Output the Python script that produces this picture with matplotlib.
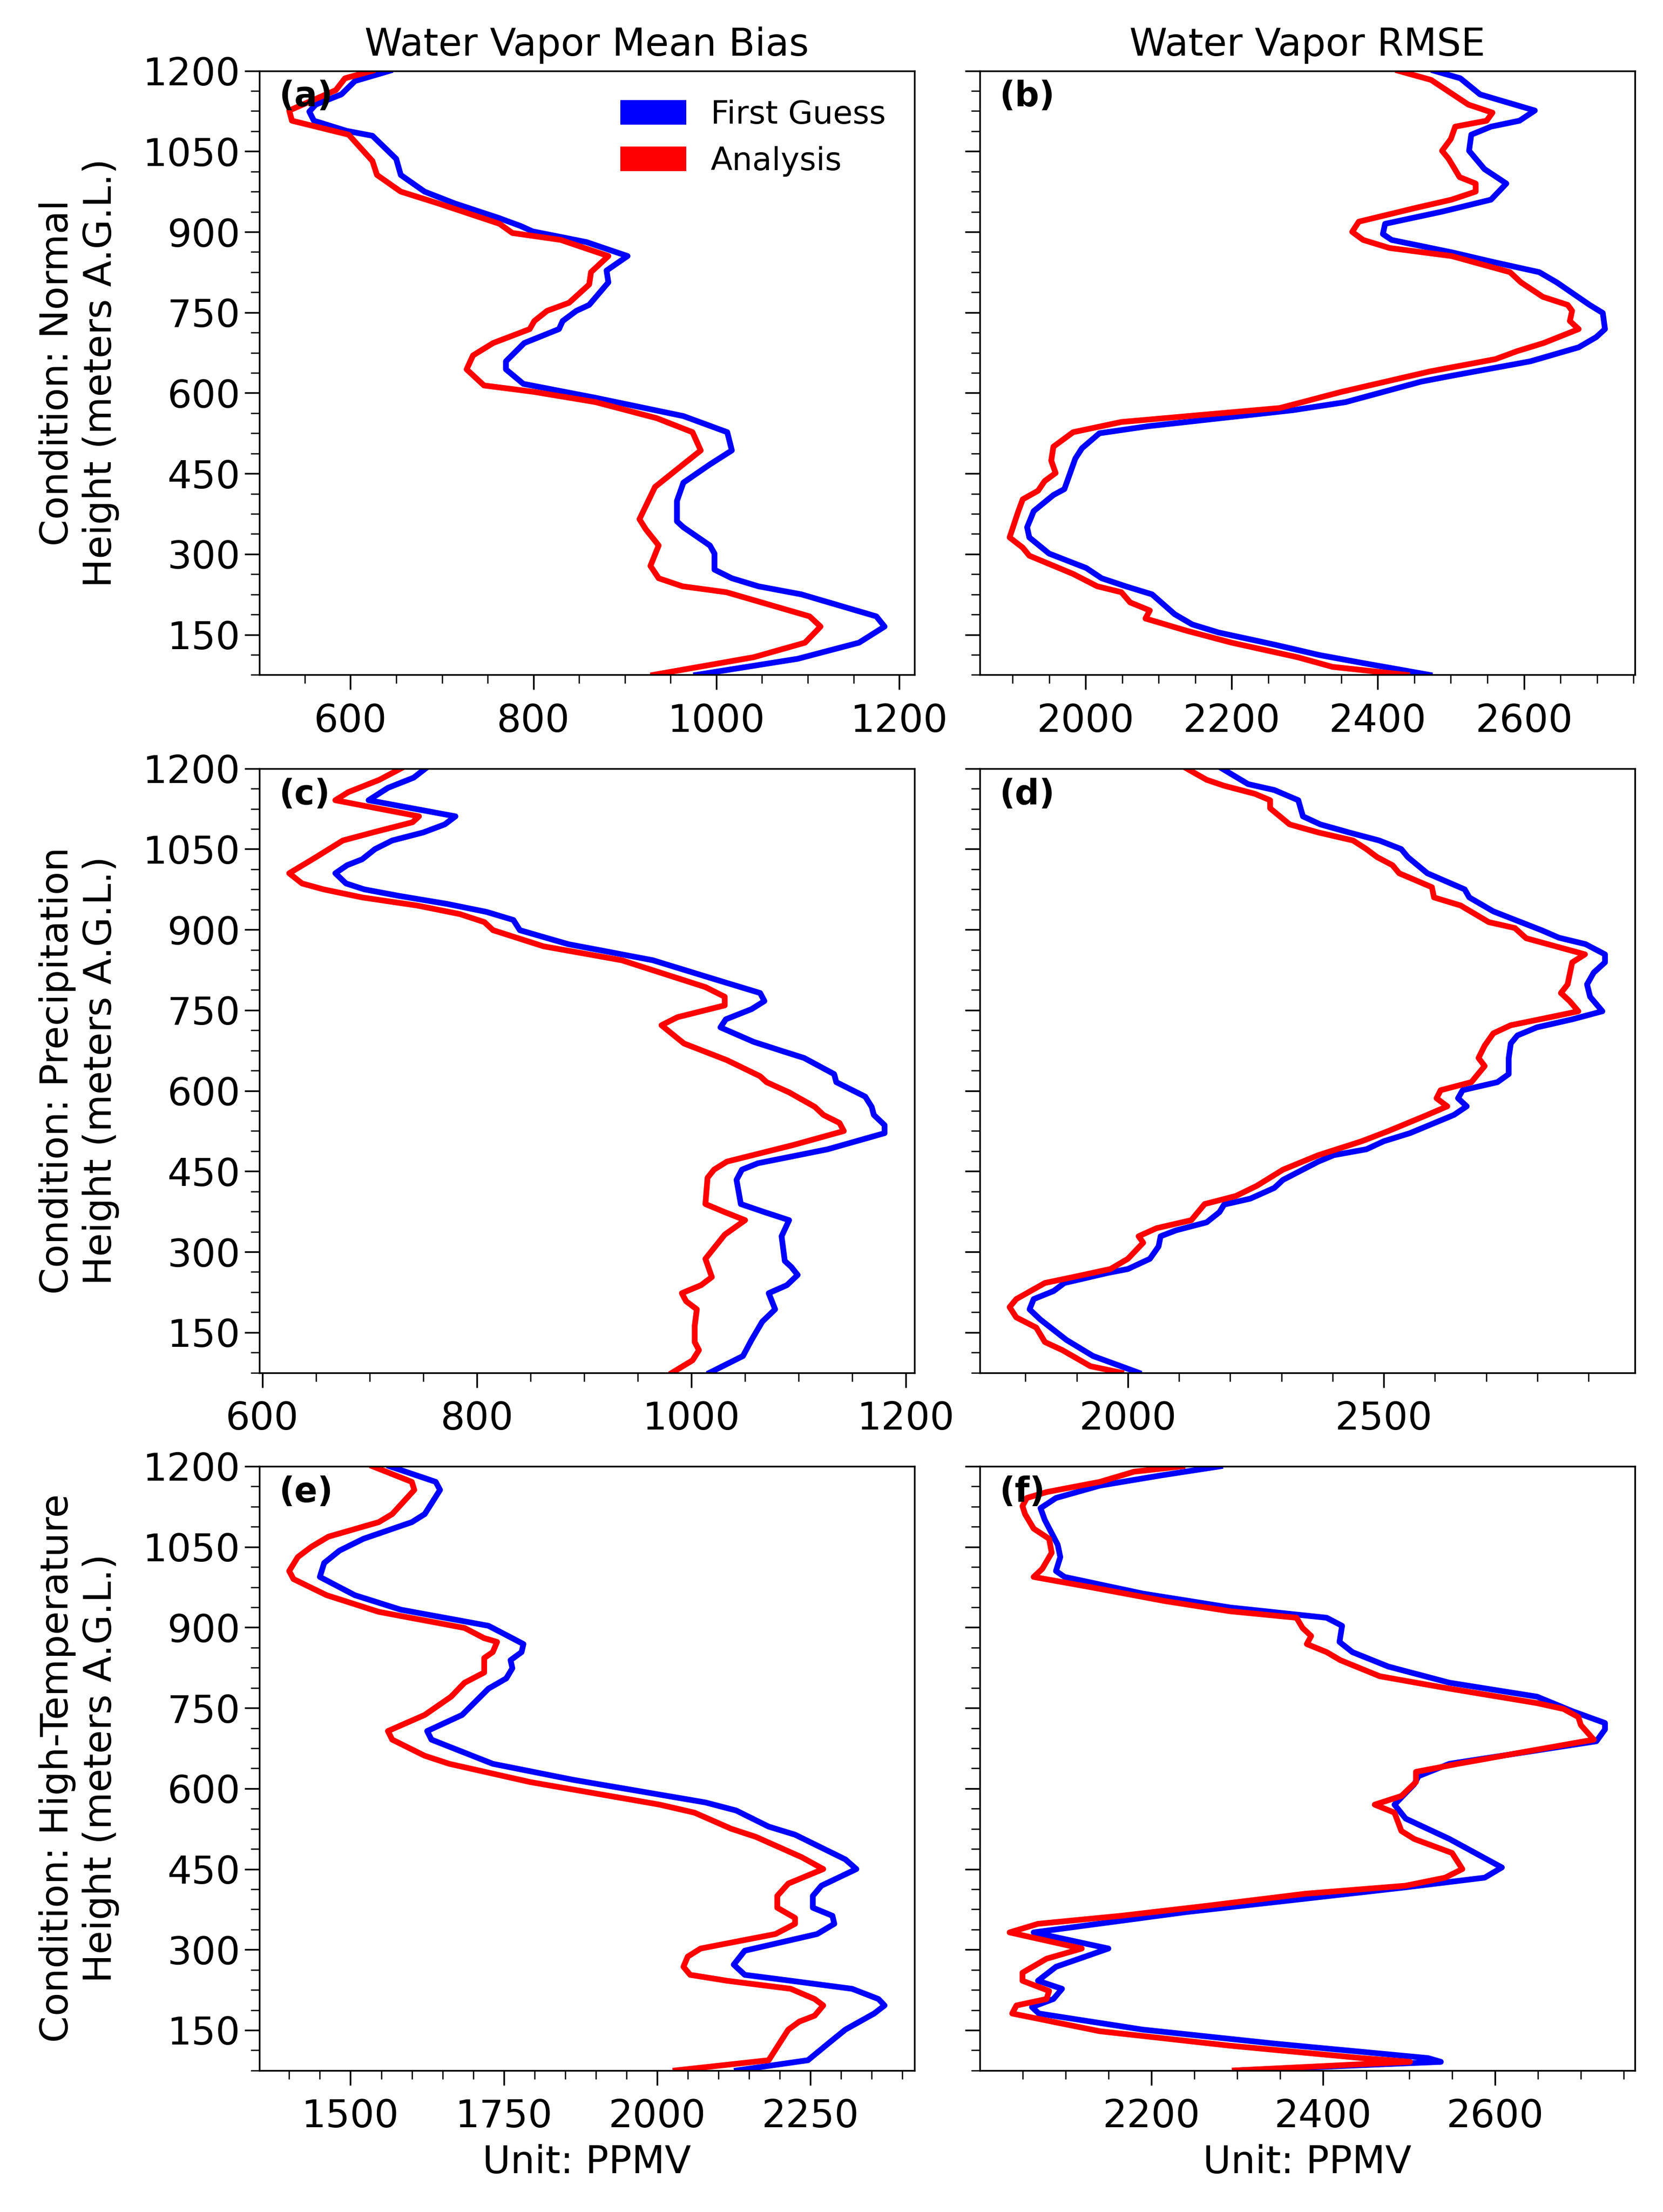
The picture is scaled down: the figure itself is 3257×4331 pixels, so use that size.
import matplotlib
matplotlib.use('Agg')
import matplotlib.pyplot as plt
import matplotlib.patches as mpatches
from matplotlib.ticker import AutoMinorLocator

plt.rcParams['font.family'] = ['DejaVu Sans']
plt.rcParams['font.size'] = 18

# (a) Normal - mean bias
h_fg_a = [1200, 1181, 1156, 1137, 1124, 1107, 1088, 1079, 1036, 1006, 975, 953, 926, 911, 901, 881, 855, 828, 806, 764,
          753, 734, 719, 693, 659, 644, 617, 591, 557, 527, 493, 467, 433, 399, 361, 350, 316, 301, 271, 255,
          240, 225, 184, 165, 135, 105, 75]
fg_a = [643, 605, 590, 562, 555, 560, 596, 624, 650, 655, 681, 714, 762, 786, 799, 858, 903, 880, 882, 861,
        847, 832, 828, 790, 770, 770, 789, 868, 964, 1012, 1017, 993, 964, 957, 957, 964, 993, 998, 998, 1017,
        1046, 1093, 1175, 1184, 1156, 1089, 978]
h_an_a = [1200, 1186, 1164, 1126, 1107, 1081, 1032, 1006, 975, 953, 915, 898, 885, 855, 825, 802, 768, 753, 734, 719,
          693, 670, 644, 614, 602, 583, 553, 527, 493, 470, 425, 365, 346, 316, 278, 255, 240, 229, 184, 165,
          135, 108, 75]
an_a = [624, 594, 584, 533, 536, 598, 624, 629, 655, 696, 763, 777, 830, 882, 863, 861, 839, 815, 801, 796,
        756, 734, 727, 746, 801, 868, 935, 974, 983, 966, 933, 916, 923, 937, 928, 937, 963, 1011, 1102, 1114,
        1097, 1041, 931]

# (b) Normal - RMSE
h_fg_b = [1200, 1186, 1156, 1126, 1107, 1096, 1081, 1051, 1017, 990, 960, 938, 915, 896, 885, 862, 843, 825, 806, 764,
          749, 719, 704, 685, 659, 632, 621, 583, 568, 538, 525, 497, 478, 421, 410, 380, 350, 331, 301, 274,
          255, 240, 225, 188, 169, 154, 131, 112, 97, 75]
fg_b = [2477, 2513, 2540, 2615, 2594, 2555, 2528, 2525, 2546, 2576, 2555, 2489, 2410, 2407, 2419, 2501, 2561, 2621, 2645, 2690,
        2708, 2711, 2699, 2675, 2609, 2501, 2459, 2356, 2284, 2085, 2019, 1995, 1986, 1971, 1956, 1929, 1920, 1923, 1950, 2001,
        2022, 2055, 2091, 2122, 2146, 2182, 2260, 2320, 2380, 2471]
h_an_b = [1200, 1183, 1137, 1122, 1107, 1096, 1073, 1051, 1036, 1002, 990, 975, 960, 945, 919, 900, 885, 870, 855, 825,
          806, 779, 764, 753, 734, 719, 693, 678, 663, 640, 602, 572, 546, 527, 500, 474, 451, 436, 418, 402,
          380, 331, 312, 297, 263, 240, 229, 210, 195, 180, 157, 135, 108, 90, 75]
an_b = [2428, 2473, 2524, 2557, 2549, 2506, 2500, 2488, 2497, 2512, 2534, 2534, 2501, 2453, 2374, 2365, 2380, 2416, 2501, 2581,
        2596, 2626, 2660, 2666, 2663, 2675, 2627, 2591, 2561, 2471, 2350, 2266, 2049, 1983, 1956, 1953, 1959, 1944, 1935, 1914,
        1908, 1896, 1914, 1923, 1983, 2016, 2049, 2061, 2088, 2082, 2139, 2200, 2290, 2338, 2440]

# (c) Precipitation - mean bias
h_fg_c = [1200, 1183, 1164, 1141, 1111, 1096, 1081, 1066, 1050, 1031, 1020, 1005, 986, 975, 963, 948, 933, 918, 899, 873,
          843, 805, 782, 767, 752, 733, 718, 691, 673, 661, 631, 616, 589, 570, 555, 536, 521, 491, 465, 453,
          434, 389, 374, 359, 329, 283, 272, 257, 238, 223, 193, 170, 136, 106, 75]
fg_c = [752, 741, 717, 699, 780, 770, 750, 721, 705, 693, 679, 668, 678, 695, 727, 772, 809, 834, 840, 885,
        964, 1026, 1064, 1068, 1056, 1032, 1027, 1058, 1086, 1105, 1133, 1135, 1162, 1168, 1170, 1180, 1180, 1127, 1062, 1047,
        1042, 1046, 1068, 1091, 1084, 1087, 1093, 1099, 1089, 1072, 1078, 1066, 1056, 1048, 1017]
h_an_c = [1200, 1179, 1156, 1141, 1111, 1100, 1081, 1066, 1035, 1005, 986, 975, 960, 945, 929, 914, 899, 869, 843, 793,
          775, 759, 737, 722, 688, 657, 627, 616, 597, 570, 555, 540, 525, 499, 468, 453, 438, 389, 374, 359,
          332, 287, 253, 238, 223, 208, 193, 162, 132, 117, 98, 75]
an_c = [729, 709, 680, 668, 746, 740, 703, 675, 650, 625, 637, 657, 693, 744, 784, 807, 815, 862, 935, 1013,
        1031, 1031, 987, 972, 993, 1033, 1064, 1070, 1091, 1115, 1123, 1138, 1142, 1095, 1033, 1021, 1015, 1013, 1031, 1050,
        1031, 1013, 1019, 1009, 991, 995, 1005, 1003, 1003, 1007, 1001, 982]

# (d) Precipitation - RMSE
h_fg_d = [1200, 1171, 1160, 1141, 1111, 1096, 1081, 1066, 1050, 1035, 1005, 975, 960, 934, 899, 885, 873, 854, 839, 820,
          798, 775, 748, 733, 718, 703, 688, 661, 631, 616, 601, 586, 571, 555, 521, 506, 491, 480, 468, 434,
          419, 399, 388, 374, 355, 340, 329, 310, 287, 268, 261, 242, 227, 212, 193, 174, 136, 106, 75]
fg_d = [2184, 2235, 2286, 2333, 2342, 2376, 2432, 2491, 2534, 2547, 2585, 2658, 2667, 2714, 2808, 2842, 2894, 2932, 2932, 2910,
        2897, 2903, 2927, 2868, 2799, 2761, 2748, 2744, 2744, 2722, 2654, 2645, 2662, 2637, 2551, 2500, 2466, 2402, 2372, 2303,
        2286, 2239, 2188, 2179, 2154, 2094, 2064, 2060, 2043, 2000, 1962, 1876, 1855, 1816, 1808, 1829, 1880, 1932, 2021]
h_an_d = [1200, 1179, 1168, 1153, 1141, 1126, 1096, 1081, 1066, 1050, 1035, 1020, 1005, 979, 960, 945, 914, 903, 884, 854,
          839, 798, 782, 767, 748, 737, 722, 707, 684, 661, 646, 616, 601, 586, 571, 555, 525, 506, 480, 453,
          423, 404, 389, 359, 344, 329, 317, 287, 268, 253, 242, 212, 197, 178, 159, 132, 117, 87, 75]
an_d = [2115, 2154, 2188, 2248, 2278, 2278, 2316, 2372, 2440, 2466, 2487, 2517, 2530, 2594, 2598, 2650, 2705, 2756, 2778, 2893,
        2868, 2859, 2846, 2863, 2880, 2825, 2748, 2714, 2697, 2685, 2697, 2671, 2611, 2603, 2624, 2585, 2509, 2457, 2372, 2303,
        2252, 2211, 2150, 2124, 2056, 2021, 2030, 2000, 1966, 1893, 1838, 1782, 1769, 1782, 1821, 1838, 1872, 1927, 1987]

# (e) High-Temperature - mean bias
h_fg_e = [1200, 1171, 1156, 1111, 1096, 1065, 1043, 1020, 994, 960, 933, 903, 884, 869, 854, 839, 824, 805, 786, 737,
          707, 691, 646, 616, 574, 559, 529, 514, 468, 450, 419, 400, 378, 363, 348, 329, 298, 272, 253, 242,
          227, 208, 196, 181, 151, 125, 94, 75]
fg_e = [1564, 1639, 1646, 1621, 1600, 1521, 1482, 1457, 1450, 1507, 1582, 1725, 1757, 1782, 1779, 1761, 1764, 1754, 1725, 1682,
        1625, 1632, 1732, 1864, 2079, 2129, 2182, 2225, 2307, 2325, 2268, 2254, 2254, 2286, 2289, 2261, 2143, 2125, 2143, 2218,
        2318, 2361, 2371, 2354, 2307, 2279, 2246, 2130]
h_an_e = [1200, 1171, 1156, 1111, 1096, 1069, 1050, 1031, 1005, 990, 960, 929, 899, 880, 873, 854, 843, 816, 797, 771,
          737, 707, 691, 661, 646, 612, 570, 555, 525, 510, 472, 450, 423, 400, 378, 359, 348, 329, 302, 287,
          268, 253, 242, 227, 208, 196, 177, 166, 151, 94, 75]
an_e = [1536, 1600, 1604, 1568, 1546, 1464, 1436, 1414, 1400, 1407, 1461, 1546, 1686, 1718, 1739, 1732, 1718, 1718, 1686, 1664,
        1621, 1561, 1568, 1621, 1661, 1793, 2004, 2061, 2121, 2161, 2236, 2271, 2214, 2196, 2196, 2225, 2225, 2193, 2071, 2050,
        2043, 2054, 2114, 2218, 2257, 2271, 2257, 2232, 2214, 2182, 2030]

# (f) High-Temperature - RMSE
h_fg_f = [1200, 1183, 1164, 1141, 1122, 1100, 1054, 1031, 1005, 994, 963, 937, 918, 903, 873, 854, 827, 797, 771, 744,
          722, 710, 688, 646, 623, 608, 570, 544, 506, 453, 434, 416, 393, 370, 332, 302, 268, 242, 227, 208,
          193, 181, 151, 125, 98, 91, 75]
fg_f = [2280, 2211, 2140, 2089, 2071, 2076, 2091, 2094, 2089, 2099, 2190, 2292, 2404, 2422, 2419, 2434, 2476, 2547, 2649, 2690,
        2728, 2728, 2718, 2547, 2511, 2506, 2483, 2496, 2547, 2608, 2588, 2496, 2369, 2241, 2063, 2150, 2089, 2068, 2096, 2086,
        2061, 2069, 2190, 2343, 2522, 2537, 2300]
h_an_f = [1200, 1190, 1171, 1152, 1141, 1126, 1111, 1084, 1065, 1039, 1009, 994, 975, 949, 930, 918, 899, 884, 869, 854,
          839, 809, 786, 759, 748, 733, 718, 691, 665, 646, 631, 612, 586, 570, 555, 521, 506, 480, 450, 434,
          419, 404, 382, 363, 348, 332, 302, 283, 257, 242, 223, 208, 196, 181, 148, 121, 98, 91, 75]
an_f = [2236, 2180, 2140, 2078, 2055, 2050, 2053, 2063, 2081, 2084, 2073, 2063, 2129, 2216, 2292, 2369, 2376, 2386, 2381, 2404,
        2420, 2466, 2547, 2649, 2680, 2697, 2700, 2715, 2623, 2557, 2508, 2508, 2491, 2460, 2483, 2491, 2506, 2550, 2562, 2542,
        2496, 2379, 2267, 2165, 2068, 2035, 2119, 2078, 2050, 2050, 2081, 2078, 2043, 2038, 2140, 2292, 2445, 2501, 2297]

conditions = ['Normal', 'Precipitation', 'High-Temperature']
col_titles = ['Water Vapor Mean Bias', 'Water Vapor RMSE']
panel_labels = ['(a)', '(b)', '(c)', '(d)', '(e)', '(f)']
yticks = [150, 300, 450, 600, 750, 900, 1050, 1200]

series = [
    (h_fg_a, fg_a, h_an_a, an_a), (h_fg_b, fg_b, h_an_b, an_b),
    (h_fg_c, fg_c, h_an_c, an_c), (h_fg_d, fg_d, h_an_d, an_d),
    (h_fg_e, fg_e, h_an_e, an_e), (h_fg_f, fg_f, h_an_f, an_f),
]

fig, axs = plt.subplots(3, 2, figsize=(3257 / 300, 4331 / 300), dpi=300)
fig.subplots_adjust(left=0.156, right=0.983, bottom=0.064, top=0.968, wspace=0.10, hspace=0.155)

for k, ax in enumerate(axs.flat):
    r, c = divmod(k, 2)
    hf, vf, ha, va = series[k]
    ax.plot(vf, hf, color='blue', lw=2.7)
    ax.plot(va, ha, color='red', lw=2.7)
    ax.set_ylim(75, 1200)
    ax.set_yticks(yticks)
    ax.xaxis.set_minor_locator(AutoMinorLocator())
    ax.yaxis.set_minor_locator(AutoMinorLocator())
    ax.tick_params(which='major', length=7)
    ax.tick_params(which='minor', length=4)
    ax.tick_params(axis='x', which='major', pad=6)
    ax.tick_params(axis='y', which='major', pad=2)
    ax.text(0.03, 0.985, panel_labels[k], transform=ax.transAxes, fontsize=16,
            fontweight='bold', va='top', ha='left')
    if c == 0:
        ax.set_ylabel('Condition: ' + conditions[r] + '\nHeight (meters A.G.L.)',
                      fontsize=18, labelpad=11)
    else:
        ax.set_yticklabels([])
    if r == 0:
        ax.set_title(col_titles[c], fontsize=18, pad=7)
    if r == 2:
        ax.set_xlabel('Unit: PPMV', fontsize=18)

handles = [mpatches.Patch(color='blue', label='First Guess'),
           mpatches.Patch(color='red', label='Analysis')]
axs[0, 0].legend(handles=handles, loc='upper right', frameon=False, fontsize=15)

fig.savefig('out.png', dpi=300)
